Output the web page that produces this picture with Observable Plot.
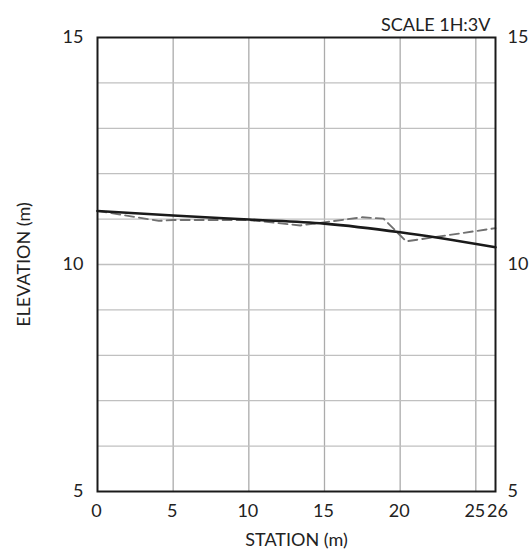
<!DOCTYPE html>
<html>
<head>
<meta charset="utf-8">
<script src="https://cdn.jsdelivr.net/npm/d3@7"></script>
<script src="https://cdn.jsdelivr.net/npm/@observablehq/plot@0.6"></script>
<style>
  html, body { margin: 0; padding: 0; background: #fff; }
  svg { font-family: Lato, "Open Sans", sans-serif; }
</style>
</head>
<body>
<div id="chart"></div>
<script>
// Design profile (solid)
const designStation = [0, 5, 10, 15, 20, 26.3];
const designElev = [11.18, 11.08, 10.99, 10.9, 10.71, 10.38];
// Existing ground (dashed)
const groundStation = [0, 4.05, 5, 10, 13.4, 17.5, 18.9, 20.4, 26.3];
const groundElev = [11.18, 10.96, 10.98, 10.98, 10.86, 11.04, 11.01, 10.51, 10.8];
// Axis ticks and grid
const stationEnd = 26.3;
const xTicks = [0, 5, 10, 15, 20, 25];
const endTickLabel = "26";
const yTicks = [5, 10, 15];
const xGrid = [5, 10, 15, 20, 25];
const yGrid = [6, 7, 8, 9, 10, 11, 12, 13, 14];
const scaleNote = "SCALE 1H:3V";
const xTitle = "STATION (m)";
const yTitle = "ELEVATION (m)";

const design = designStation.map((x, i) => ({x, y: designElev[i]}));
const ground = groundStation.map((x, i) => ({x, y: groundElev[i]}));

const FS = 18;
const chart = Plot.plot({
  width: 530,
  height: 556,
  marginLeft: 97,
  marginRight: 35,
  marginTop: 37,
  marginBottom: 65,
  style: {fontSize: FS + "px", fontFamily: "Lato, 'Open Sans', sans-serif", color: "#222"},
  x: {domain: [0, stationEnd]},
  y: {domain: [5, 15]},
  marks: [
    Plot.ruleX(xGrid, {stroke: "#ababab", strokeWidth: 1.3}),
    Plot.ruleY(yGrid, {stroke: "#c0c0c0", strokeWidth: 1.3}),
    Plot.line(ground, {x: "x", y: "y", stroke: "#707070", strokeWidth: 1.9, strokeDasharray: "9,5"}),
    Plot.line(design, {x: "x", y: "y", stroke: "#1a1a1a", strokeWidth: 2.6, curve: "monotone-x"}),
    Plot.frame({stroke: "#1a1a1a", strokeWidth: 2}),
    Plot.axisX({ticks: xTicks, tickSize: 0, tickPadding: 13, dx: -1, label: xTitle, labelAnchor: "center", labelArrow: "none", labelOffset: 54, fontSize: FS}),
    Plot.axisX({ticks: [stationEnd], tickFormat: () => endTickLabel, tickSize: 0, tickPadding: 13, dx: 2, label: null, fontSize: FS}),
    Plot.axisY({anchor: "left", ticks: yTicks, tickSize: 0, tickPadding: 14, label: yTitle, labelAnchor: "center", labelArrow: "none", labelOffset: 80, fontSize: FS}),
    Plot.axisY({anchor: "right", ticks: yTicks, tickSize: 0, tickPadding: 12, label: null, fontSize: FS}),
    Plot.text([scaleNote], {frameAnchor: "top-right", text: d => d, dy: -19, dx: -5, fontSize: 18, textAnchor: "end", fill: "#222"})
  ]
});
document.getElementById("chart").append(chart);
</script>
</body>
</html>
